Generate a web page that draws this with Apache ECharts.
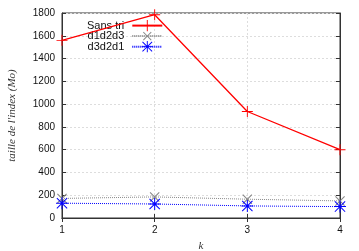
<!DOCTYPE html>
<html><head><meta charset="utf-8">
<script src="https://cdn.jsdelivr.net/npm/echarts@6/dist/echarts.min.js"></script>
<style>html,body{margin:0;padding:0;background:#fff}#c{width:359px;height:251px}</style>
</head><body><div id="c"></div>
<script>
const kValues = [1, 2, 3, 4];
const sansTri = [1560, 1785, 935, 600];
const d1d2d3 = [172, 185, 165, 150];
const d3d2d1 = [130, 123, 106, 100];
const yTicks = [0, 200, 400, 600, 800, 1000, 1200, 1400, 1600, 1800];

const plusPath = 'path://M5.5,0 h1 v5.5 h5.5 v1 h-5.5 v5.5 h-1 v-5.5 h-5.5 v-1 h5.5 z';
const starPath = 'path://M5.5,0 h1 v5.5 h5.5 v1 h-5.5 v5.5 h-1 v-5.5 h-5.5 v-1 h5.5 z M1.2,0.5 L6,5.3 L10.8,0.5 L11.5,1.2 L6.7,6 L11.5,10.8 L10.8,11.5 L6,6.7 L1.2,11.5 L0.5,10.8 L5.3,6 L0.5,1.2 z';

const pairs = arr => kValues.map((k, i) => [k, arr[i]]);
const chart = echarts.init(document.getElementById('c'));
const fontSans = 'Liberation Sans';
chart.setOption({
  animation: false,
  grid: { left: 62, right: 19, top: 13, bottom: 33, outerBoundsMode: 'none', containLabel: false,
    show: true, borderColor: '#333', borderWidth: 1 },
  legend: {
    orient: 'vertical', left: 82, top: 15, align: 'right', itemWidth: 30, itemHeight: 14, itemGap: -3,
    textStyle: { fontFamily: fontSans, fontSize: 11, color: '#111', padding: [0, 3, 0, 0] },
    data: ['Sans tri', 'd1d2d3', 'd3d2d1']
  },
  xAxis: [{
    type: 'value', min: 1, max: 4, interval: 1,
    name: 'k', nameLocation: 'middle', nameGap: 23,
    nameTextStyle: { fontFamily: 'Liberation Serif', fontStyle: 'italic', fontSize: 11, color: '#333' },
    axisLine: { show: true, lineStyle: { color: '#333' } },
    axisTick: { inside: true, length: 4, lineStyle: { color: '#333' } },
    axisLabel: { fontFamily: fontSans, fontSize: 10, color: '#111', margin: 7 },
    splitLine: { show: true, lineStyle: { color: '#ddd', type: [2, 2] } }
  }, {
    type: 'value', min: 1, max: 4, interval: 1, position: 'top',
    axisLine: { show: true, lineStyle: { color: '#333' } },
    axisTick: { inside: true, length: 4, lineStyle: { color: '#333' } },
    axisLabel: { show: false }, splitLine: { show: false }
  }],
  yAxis: [{
    type: 'value', min: 0, max: 1800, interval: 200,
    name: "taille de l'index (Mo)", nameLocation: 'middle', nameGap: 44, nameRotate: 90,
    nameTextStyle: { fontFamily: 'Liberation Serif', fontStyle: 'italic', fontSize: 11, color: '#333' },
    axisLine: { show: true, lineStyle: { color: '#333' } },
    axisTick: { inside: true, length: 4, lineStyle: { color: '#333' } },
    axisLabel: { fontFamily: fontSans, fontSize: 10, color: '#111', margin: 7,
      formatter: v => yTicks.includes(v) ? String(v) : '' },
    splitLine: { show: true, lineStyle: { color: '#ddd', type: [2, 2] } }
  }, {
    type: 'value', min: 0, max: 1800, interval: 200, position: 'right',
    axisLine: { show: true, lineStyle: { color: '#333' } },
    axisTick: { inside: true, length: 4, lineStyle: { color: '#333' } },
    axisLabel: { show: false }, splitLine: { show: false }
  }],
  series: [{
    name: 'Sans tri', type: 'line', data: pairs(sansTri), color: '#ff0000',
    symbol: plusPath, symbolSize: 11, showAllSymbol: true,
    lineStyle: { width: 1.3, color: '#ff0000' }, itemStyle: { color: '#ff0000' }, z: 4
  }, {
    name: 'd1d2d3', type: 'line', data: pairs(d1d2d3), color: '#888888',
    symbol: plusPath, symbolRotate: 45, symbolSize: 13,
    lineStyle: { width: 1, color: '#888888', type: [1, 1] }, itemStyle: { color: '#888888' }, z: 3
  }, {
    name: 'd3d2d1', type: 'line', data: pairs(d3d2d1), color: '#0000ff',
    symbol: starPath, symbolSize: 12,
    lineStyle: { width: 1, color: '#0000ff', type: [1, 1] }, itemStyle: { color: '#0000ff' }, z: 5
  }]
});
</script></body></html>
